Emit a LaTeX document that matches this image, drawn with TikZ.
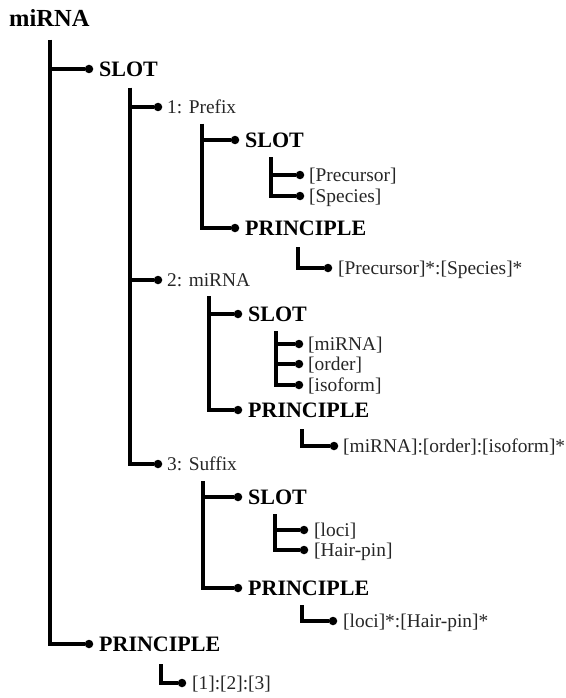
\documentclass[tikz,border=0pt]{standalone}
\usepackage{fontspec}
\setmainfont{Liberation Serif}
\begin{document}
\begin{tikzpicture}[x=1pt,y=-1pt,
  conn/.style={line width=3.4pt, line join=miter},
  dot/.style={circle, fill=black, inner sep=0pt, minimum size=8.5pt},
  title/.style={anchor=base west, inner sep=0pt, font=\bfseries\fontsize{24.5}{28}\selectfont},
  key/.style={anchor=base west, inner sep=0pt, font=\bfseries\fontsize{22}{25}\selectfont},
  item/.style={anchor=base west, inner sep=0pt, text=black!85, font=\fontsize{19.4}{23}\selectfont}]
\useasboundingbox (0,0) rectangle (565,698);

% root
\node[title] (root) at (9,27) {miRNA};
\coordinate (rootTop) at (50,40);

% level 1
\node[dot] (dSlot) at (89,69) {};
\node[key] (slot) at (99,76.5) {SLOT};
\node[dot] (dPrin) at (89,644) {};
\node[key] (prin) at (99,651.5) {PRINCIPLE};
\draw[conn] (rootTop) |- (dSlot);
\draw[conn] (rootTop) |- (dPrin);

% slots of the name
\coordinate (slotTop) at (130,88);
\node[dot] (dPre) at (158,107) {};
\node[item] (pre) at (167,113.5) {1: Prefix};
\node[dot] (dMir) at (158,280) {};
\node[item] (mir) at (167,286.5) {2: miRNA};
\node[dot] (dSuf) at (158,464) {};
\node[item] (suf) at (167,470.5) {3: Suffix};
\draw[conn] (slotTop) |- (dPre);
\draw[conn] (slotTop) |- (dMir);
\draw[conn] (slotTop) |- (dSuf);

% 1: Prefix
\coordinate (preTop) at (202,124);
\node[dot] (dPreSlot) at (235,140) {};
\node[key] (preSlot) at (245,147.5) {SLOT};
\node[dot] (dPrePrin) at (235,228) {};
\node[key] (prePrin) at (245,235.5) {PRINCIPLE};
\draw[conn] (preTop) |- (dPreSlot);
\draw[conn] (preTop) |- (dPrePrin);

\coordinate (preSlotTop) at (271,157);
\node[dot] (dPrec) at (300,175) {};
\node[item] (prec) at (309,181.5) {[Precursor]};
\node[dot] (dSpec) at (300,196) {};
\node[item] (spec) at (309,202.5) {[Species]};
\draw[conn] (preSlotTop) |- (dPrec);
\draw[conn] (preSlotTop) |- (dSpec);

\coordinate (prePrinTop) at (298,247);
\node[dot] (dPreRule) at (328,268) {};
\node[item] (preRule) at (338,274.5) {[Precursor]*:[Species]*};
\draw[conn] (prePrinTop) |- (dPreRule);

% 2: miRNA
\coordinate (mirTop) at (209,296);
\node[dot] (dMirSlot) at (238,314) {};
\node[key] (mirSlot) at (248,321.5) {SLOT};
\node[dot] (dMirPrin) at (238,410) {};
\node[key] (mirPrin) at (248,417.5) {PRINCIPLE};
\draw[conn] (mirTop) |- (dMirSlot);
\draw[conn] (mirTop) |- (dMirPrin);

\coordinate (mirSlotTop) at (276,331);
\node[dot] (dMiName) at (299,344) {};
\node[item] (miName) at (308,350.5) {[miRNA]};
\node[dot] (dOrder) at (299,364) {};
\node[item] (order) at (308,370.5) {[order]};
\node[dot] (dIso) at (299,385) {};
\node[item] (iso) at (308,391.5) {[isoform]};
\draw[conn] (mirSlotTop) |- (dMiName);
\draw[conn] (mirSlotTop) |- (dOrder);
\draw[conn] (mirSlotTop) |- (dIso);

\coordinate (mirPrinTop) at (302,429);
\node[dot] (dMirRule) at (334,446) {};
\node[item] (mirRule) at (343,452.5) {[miRNA]:[order]:[isoform]*};
\draw[conn] (mirPrinTop) |- (dMirRule);

% 3: Suffix
\coordinate (sufTop) at (203,481);
\node[dot] (dSufSlot) at (238,497) {};
\node[key] (sufSlot) at (248,504.5) {SLOT};
\node[dot] (dSufPrin) at (238,588) {};
\node[key] (sufPrin) at (248,595.5) {PRINCIPLE};
\draw[conn] (sufTop) |- (dSufSlot);
\draw[conn] (sufTop) |- (dSufPrin);

\coordinate (sufSlotTop) at (275,514);
\node[dot] (dLoci) at (304,530) {};
\node[item] (loci) at (314,536.5) {[loci]};
\node[dot] (dHair) at (304,550) {};
\node[item] (hair) at (314,556.5) {[Hair-pin]};
\draw[conn] (sufSlotTop) |- (dLoci);
\draw[conn] (sufSlotTop) |- (dHair);

\coordinate (sufPrinTop) at (302,605);
\node[dot] (dSufRule) at (333,621) {};
\node[item] (sufRule) at (343,627.5) {[loci]*:[Hair-pin]*};
\draw[conn] (sufPrinTop) |- (dSufRule);

% rule of the whole name
\coordinate (prinTop) at (161,664);
\node[dot] (dRule) at (182,683) {};
\node[item] (rule) at (192,689.5) {[1]:[2]:[3]};
\draw[conn] (prinTop) |- (dRule);
\end{tikzpicture}
\end{document}
